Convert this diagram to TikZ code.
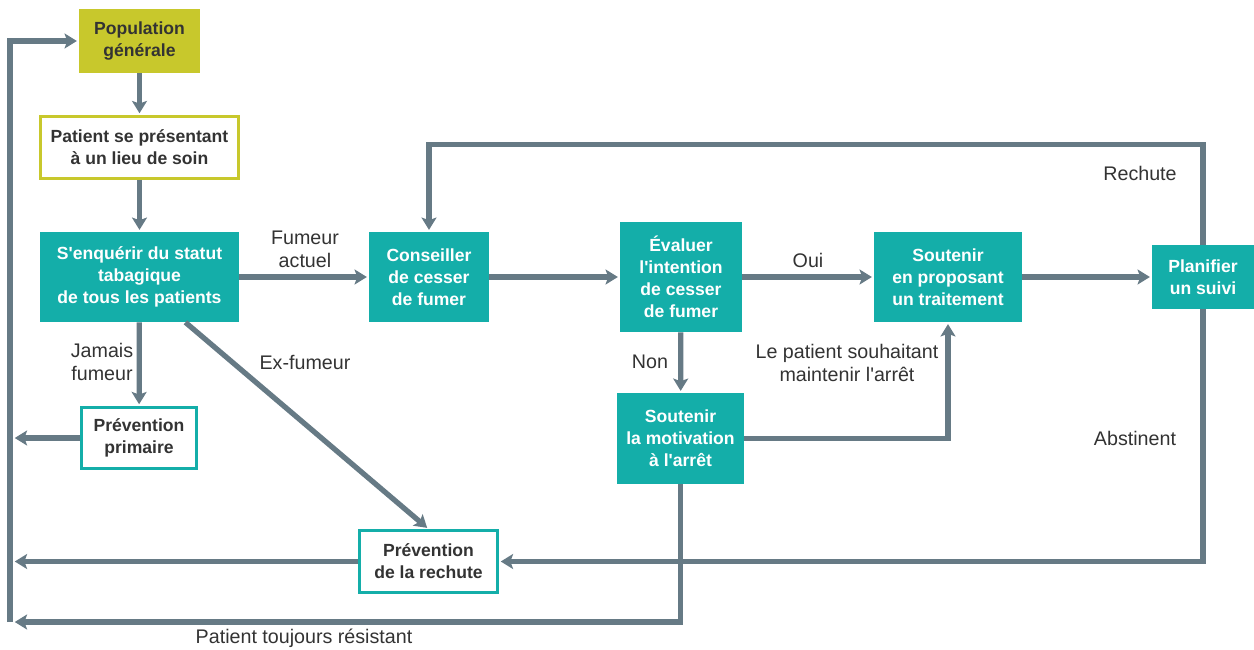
\documentclass[tikz,border=0pt]{standalone}
\usepackage{fontspec}
\setmainfont{Liberation Sans}
\usetikzlibrary{arrows.meta,calc}

\definecolor{boxteal}{HTML}{14AEA9}
\definecolor{boxolive}{HTML}{C8C82C}
\definecolor{flowgray}{HTML}{667A85}
\definecolor{labelgray}{HTML}{333333}

\begin{document}
\begin{tikzpicture}[x=0.02cm,y=-0.02cm]

      %styles for boxes and arrows
      \tikzset{
      boxsize/.style 2 args={minimum width=#1*0.02cm, minimum height=#2*0.02cm},
      box/.style={rectangle, align=center, inner sep=0pt,
        font=\fontsize{10}{12.5}\selectfont\bfseries},
      tealbox/.style={box, fill=boxteal, text=white},
      whitebox/.style={box, fill=white, draw=#1, line width=1.7pt, text=labelgray},
      flow/.style={draw=flowgray, line width=3pt,
        -{Stealth[width=8.5pt,length=7pt,inset=1.5pt]}, shorten >=1pt},
      lbl/.style={align=center, text=labelgray, font=\fontsize{11.2}{13}\selectfont},
      }

      \useasboundingbox (0,0) rectangle (1254,649);

      %left column
      \node[box, fill=boxolive, text=labelgray, boxsize={121}{64}] (pop) at (139.5,41) {Population\\générale};
      \node[whitebox=boxolive, boxsize={198}{62}] (pat) at (139.5,147.5) {Patient se présentant\\à un lieu de soin};
      \node[tealbox, boxsize={199}{90}] (sen) at (139.5,277) {S\textquotesingle enquérir du statut\\tabagique\\de tous les patients};
      \node[whitebox=boxteal, boxsize={115}{61}] (prim) at (139,438) {Prévention\\primaire};
      \node[whitebox=boxteal, boxsize={138}{62}] (rech) at (428.5,561.5) {Prévention\\de la rechute};

      %middle and right column
      \node[tealbox, boxsize={120}{90}] (cons) at (429,277) {Conseiller\\de cesser\\de fumer};
      \node[tealbox, boxsize={122}{110}] (eval) at (681,277) {Évaluer\\l\textquotesingle intention\\de cesser\\de fumer};
      \node[tealbox, boxsize={127}{91}] (mot) at (680.5,438.5) {Soutenir\\la motivation\\à l\textquotesingle arrêt};
      \node[tealbox, boxsize={148}{90}] (prop) at (948,277) {Soutenir\\en proposant\\un traitement};
      \node[tealbox, boxsize={102}{64}] (plan) at (1203,277) {Planifier\\un suivi};

      %left return line
      \coordinate (lbot) at (10,622);

      %arrows
      \draw[flow] (pop) -- (pat);
      \draw[flow] (pat) -- (sen);
      \draw[flow] (sen) -- (cons);
      \draw[flow] (sen) -- (prim);
      \draw[flow] ($(sen.south west)!0.73!(sen.south east)$) -- (rech.north);
      \draw[flow] (lbot) |- (pop.west);
      \draw[flow] (prim.west) -- ($(prim.west -| lbot)+(3,0)$);
      \draw[flow] (rech.west) -- ($(rech.west -| lbot)+(3,0)$);
      \draw[flow] (mot.south) |- ($(lbot)+(3,0)$);
      \draw[flow] (cons) -- (eval);
      \draw[flow] (eval) -- (prop);
      \draw[flow] (eval) -- (mot);
      \draw[flow] (mot.east) -| (prop.south);
      \draw[flow] (prop) -- (plan);
      \draw[flow] (plan.north) -- ++(0,-100) -| (cons.north);
      \draw[flow] (plan.south) |- (rech.east);

      %labels
      \node[lbl] (lfum) at (305,249) {Fumeur\\actuel};
      \node[lbl] (ljam) at (102,362) {Jamais\\fumeur};
      \node[lbl] (lex) at (305,362) {Ex-fumeur};
      \node[lbl] (loui) at (808,260) {Oui};
      \node[lbl] (lnon) at (650,362) {Non};
      \node[lbl] (lsou) at (847,363) {Le patient souhaitant\\maintenir l\textquotesingle arrêt};
      \node[lbl] (lrec) at (1140,173) {Rechute};
      \node[lbl] (labs) at (1135,438) {Abstinent};
      \node[lbl] (lres) at (304,638) {Patient toujours résistant};
    \end{tikzpicture}
\end{document}
